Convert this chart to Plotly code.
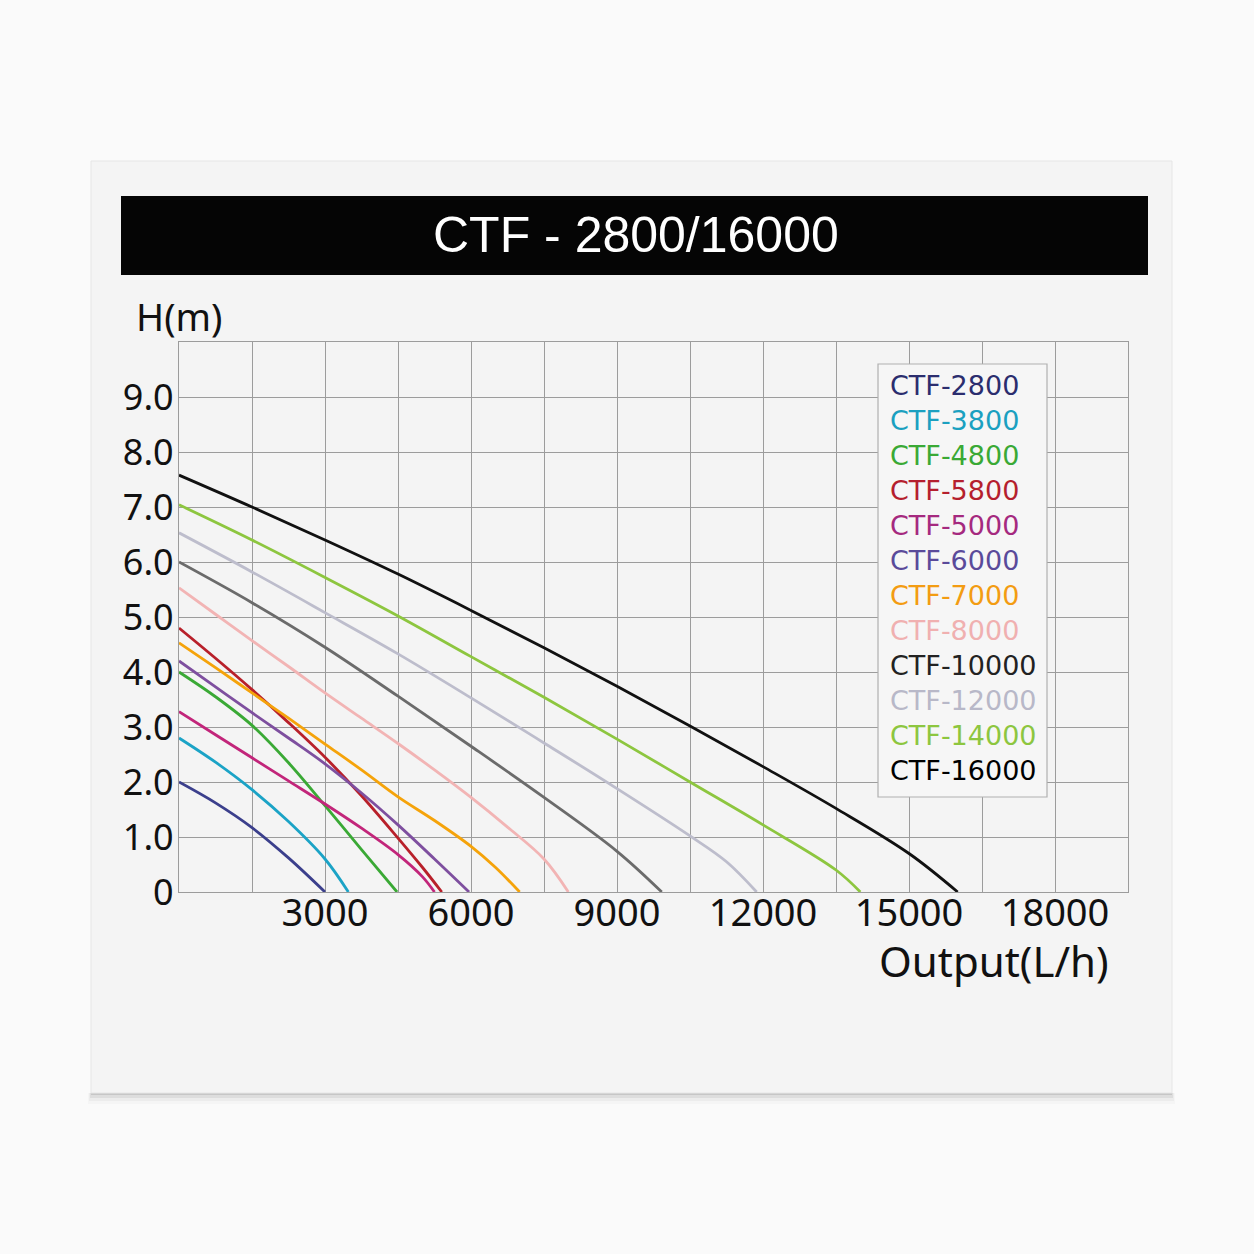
import plotly.graph_objects as go

W = 1254
H = 1254
H_EFF = 1230  # rendered paper height observed (vertical layout space)

# ---------------- data ----------------
models = ["CTF-2800", "CTF-3800", "CTF-4800", "CTF-5800", "CTF-5000", "CTF-6000",
          "CTF-7000", "CTF-8000", "CTF-10000", "CTF-12000", "CTF-14000", "CTF-16000"]

q_2800 = [0, 750, 1500, 2250, 3000]
h_2800 = [2.0, 1.62, 1.17, 0.62, 0.0]

q_3800 = [0, 750, 1500, 2250, 3000, 3480]
h_3800 = [2.8, 2.36, 1.86, 1.28, 0.6, 0.0]

q_4800 = [0, 750, 1500, 2250, 3000, 3750, 4480]
h_4800 = [4.0, 3.55, 3.03, 2.35, 1.57, 0.77, 0.0]

q_5800 = [0, 750, 1500, 2250, 3000, 3750, 4500, 5000, 5400]
h_5800 = [4.8, 4.25, 3.68, 3.08, 2.45, 1.75, 0.98, 0.45, 0.0]

q_5000 = [0, 750, 1500, 2250, 3000, 3750, 4500, 5000, 5250]
h_5000 = [3.28, 2.86, 2.44, 2.02, 1.6, 1.16, 0.68, 0.28, 0.0]

q_6000 = [0, 750, 1500, 2250, 3000, 3750, 4500, 5250, 5960]
h_6000 = [4.2, 3.73, 3.26, 2.8, 2.33, 1.8, 1.22, 0.6, 0.0]

q_7000 = [0, 750, 1500, 2250, 3000, 3750, 4500, 5250, 6000, 6500, 7000]
h_7000 = [4.53, 4.08, 3.62, 3.16, 2.69, 2.22, 1.73, 1.3, 0.83, 0.45, 0.0]

q_8000 = [0, 750, 1500, 2250, 3000, 3750, 4500, 5250, 6000, 6750, 7500, 8000]
h_8000 = [5.53, 5.05, 4.57, 4.1, 3.62, 3.16, 2.7, 2.22, 1.72, 1.18, 0.6, 0.0]

q_10000 = [0, 1500, 3000, 4500, 6000, 7500, 9000, 9920]
h_10000 = [6.0, 5.26, 4.45, 3.56, 2.65, 1.72, 0.74, 0.0]

q_12000 = [0, 1500, 3000, 4500, 6000, 7500, 9000, 10500, 11250, 11870]
h_12000 = [6.53, 5.82, 5.08, 4.33, 3.53, 2.71, 1.88, 1.02, 0.55, 0.0]

q_14000 = [0, 1500, 3000, 4500, 6000, 7500, 9000, 10500, 12000, 13500, 14000]
h_14000 = [7.04, 6.4, 5.72, 5.02, 4.28, 3.54, 2.78, 2.0, 1.22, 0.4, 0.0]

q_16000 = [0, 1500, 3000, 4500, 6000, 7500, 9000, 10500, 12000, 13500, 15000, 16000]
h_16000 = [7.58, 7.0, 6.4, 5.78, 5.12, 4.44, 3.74, 3.02, 2.28, 1.52, 0.7, 0.0]

series_q = [q_2800, q_3800, q_4800, q_5800, q_5000, q_6000,
            q_7000, q_8000, q_10000, q_12000, q_14000, q_16000]
series_h = [h_2800, h_3800, h_4800, h_5800, h_5000, h_6000,
            h_7000, h_8000, h_10000, h_12000, h_14000, h_16000]

line_colors = ["#3b3f8c", "#1ba3c6", "#3aa935", "#b8202a", "#c2257a", "#7e4f9f",
               "#f5a30a", "#f2b4b4", "#6b6b6b", "#bdbdcc", "#8dc63f", "#111111"]
label_colors = ["#2b2d6e", "#1ba0c0", "#3aa935", "#b51f2e", "#a5297f", "#5a4a9a",
                "#f39c12", "#f0b0b0", "#222222", "#b8b8c8", "#8dc63f", "#000000"]

x_tickvals = [i * 1500 for i in range(14)]
x_ticktext = ["" if (v == 0 or v % 3000) else str(v) for v in x_tickvals]
y_tickvals = list(range(11))
y_ticktext = ["0"] + [f"{v:.1f}" for v in range(1, 10)] + [""]

title_text = "CTF - 2800/16000"
y_title = "H(m)"
x_title = "Output(L/h)"

# ---------------- helpers ----------------
def px(x):
    return x / W

def py(y):
    return 1 - y / H_EFF

fig = go.Figure()
for name, q, h, c in zip(models, series_q, series_h, line_colors):
    fig.add_trace(go.Scatter(x=q, y=h, mode="lines", name=name,
                             line=dict(color=c, width=2.8, shape="spline", smoothing=1.0),
                             showlegend=False, hoverinfo="skip"))

grid_col = "#9c9c9c"
fig.update_layout(
    width=W, height=H,
    margin=dict(l=0, r=0, t=0, b=0),
    paper_bgcolor="#fafafa",
    plot_bgcolor="rgba(0,0,0,0)",
    xaxis=dict(domain=[px(179), px(1128)], range=[0, 19500],
               tickvals=x_tickvals, ticktext=x_ticktext,
               showgrid=True, gridcolor=grid_col, gridwidth=1.3,
               showline=True, linecolor=grid_col, linewidth=1.3, mirror=True,
               zeroline=False, ticks="", ticklen=0, ticklabelstandoff=-13,
               tickfont=dict(family="Noto Sans", size=38, color="#111")),
    yaxis=dict(domain=[py(892), py(342)], range=[0, 10],
               tickvals=y_tickvals, ticktext=y_ticktext,
               showgrid=True, gridcolor=grid_col, gridwidth=1.3,
               showline=True, linecolor=grid_col, linewidth=1.3, mirror=True,
               zeroline=False, ticks="", ticklen=0, ticklabelstandoff=-3,
               tickfont=dict(family="Noto Sans", size=36, color="#111")),
)

shapes = []
# soft shadow under panel
for i, a in enumerate([0.10, 0.06, 0.035, 0.02]):
    shapes.append(dict(type="rect", xref="paper", yref="paper", layer="below",
                       x0=px(91 - i), x1=px(1172 + i), y0=py(1093 + 2 + 3 * i), y1=py(1093),
                       fillcolor=f"rgba(0,0,0,{a})", line=dict(width=0)))
# panel
shapes.append(dict(type="rect", xref="paper", yref="paper", layer="below",
                   x0=px(91), x1=px(1172), y0=py(1093), y1=py(161),
                   fillcolor="#f4f4f4", line=dict(color="#e6e6e6", width=1)))
# title bar
shapes.append(dict(type="rect", xref="paper", yref="paper", layer="below",
                   x0=px(121), x1=px(1148), y0=py(275), y1=py(196),
                   fillcolor="#050505", line=dict(width=0)))
# legend box
shapes.append(dict(type="rect", xref="paper", yref="paper", layer="above",
                   x0=px(878), x1=px(1047), y0=py(797), y1=py(364),
                   fillcolor="#f6f6f6", line=dict(color="#b0b0b0", width=1.2)))
fig.update_layout(shapes=shapes)

ann = [
    dict(text=title_text, x=px(636), y=py(235), xref="paper", yref="paper",
         showarrow=False, xanchor="center", yanchor="middle",
         font=dict(family="Liberation Sans", size=50, color="white")),
    dict(text=y_title, x=px(134), y=py(316), xref="paper", yref="paper",
         showarrow=False, xanchor="left", yanchor="middle",
         font=dict(family="Noto Sans", size=38, color="#111")),
    dict(text=x_title, x=px(994), y=py(960), xref="paper", yref="paper",
         showarrow=False, xanchor="center", yanchor="middle",
         font=dict(family="Noto Sans", size=42, color="#111")),
]
for i, (name, c) in enumerate(zip(models, label_colors)):
    ann.append(dict(text=name, x=px(888), y=py(385 + 35 * i), xref="paper", yref="paper",
                    showarrow=False, xanchor="left", yanchor="middle", height=34,
                    font=dict(family="DejaVu Sans", size=27, color=c)))
fig.update_layout(annotations=ann)

fig.write_html("out.html")
